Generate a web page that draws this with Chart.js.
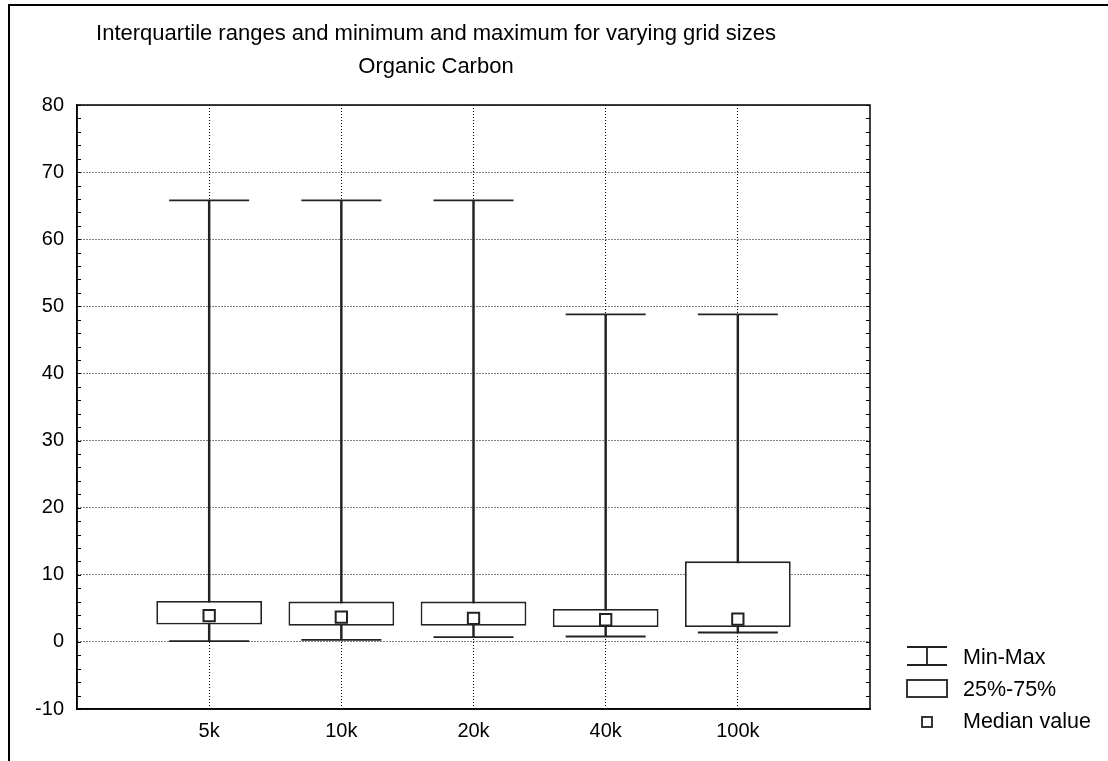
<!DOCTYPE html>
<html>
<head>
<meta charset="utf-8">
<script src="https://cdn.jsdelivr.net/npm/chart.js@4.4.0/dist/chart.umd.min.js"></script>
<style>
  html, body { margin: 0; padding: 0; background: #fff; overflow: hidden; }
  canvas { display: block; }
</style>
</head>
<body>
<canvas id="chart" width="1108" height="761"></canvas>
<script>
// Grid sizes and their summary statistics (organic carbon)
const categories = ['5k', '10k', '20k', '40k', '100k'];
const minVals    = [0.1, 0.3, 0.7, 0.8, 1.4];
const q1Vals     = [2.6, 2.4, 2.4, 2.2, 2.2];
const medianVals = [3.9, 3.7, 3.5, 3.3, 3.4];
const q3Vals     = [6.1, 6.0, 6.0, 4.9, 12.0];
const maxVals    = [65.8, 65.8, 65.8, 48.8, 48.8];

const yMin = -10;
const yMax = 80;
const yStep = 10;
const minorStep = 2;

const titleLines = ['Interquartile ranges and minimum and maximum for varying grid sizes', 'Organic Carbon'];
const legendLabels = ['Min-Max', '25%-75%', 'Median value'];

const FONT = '"Liberation Sans", Arial, Helvetica, sans-serif';
const INK = '#222';
const positions = categories.map((_, i) => i + 1);

const whiskerData = positions.map((x, i) => ({ x, y: [minVals[i], maxVals[i]] }));
const boxData     = positions.map((x, i) => ({ x, y: [q1Vals[i], q3Vals[i]] }));
const capData     = positions.flatMap((x, i) => [{ x, y: minVals[i] }, { x, y: maxVals[i] }]);
const medianData  = positions.map((x, i) => ({ x, y: medianVals[i] }));

// Page border, plot frame, minor ticks, titles and legend
const decorations = {
  id: 'decorations',
  beforeDraw(chart) {
    const ctx = chart.ctx;
    ctx.save();
    ctx.fillStyle = '#fff';
    ctx.fillRect(0, 0, chart.width, chart.height);
    ctx.fillStyle = '#000';
    ctx.fillRect(8, 4, 2, chart.height - 4);
    ctx.fillRect(8, 4, chart.width - 8, 2);
    ctx.restore();
  },
  afterDraw(chart) {
    const ctx = chart.ctx;
    const a = chart.chartArea;
    const y = chart.scales.y;
    ctx.save();
    ctx.strokeStyle = '#000';
    ctx.lineWidth = 1.5;
    ctx.strokeRect(a.left, a.top, a.right - a.left, a.bottom - a.top);

    ctx.lineWidth = 1;
    ctx.beginPath();
    for (let v = yMin; v <= yMax; v += minorStep) {
      const py = Math.round(y.getPixelForValue(v)) + 0.5;
      ctx.moveTo(a.left, py); ctx.lineTo(a.left + 4, py);
      ctx.moveTo(a.right - 4, py); ctx.lineTo(a.right, py);
    }
    ctx.stroke();

    // titles
    ctx.fillStyle = '#000';
    ctx.font = '22px ' + FONT;
    ctx.textAlign = 'center';
    ctx.textBaseline = 'middle';
    ctx.fillText(titleLines[0], 436, 34);
    ctx.fillText(titleLines[1], 436, 67);

    // legend
    const sx = 907, sw = 40, tx = 963;
    ctx.strokeStyle = INK;
    ctx.lineWidth = 1.8;
    ctx.beginPath();
    ctx.moveTo(sx, 647); ctx.lineTo(sx + sw, 647);
    ctx.moveTo(sx, 665); ctx.lineTo(sx + sw, 665);
    ctx.moveTo(sx + sw / 2, 647); ctx.lineTo(sx + sw / 2, 665);
    ctx.stroke();
    ctx.strokeRect(sx, 680, sw, 17);
    ctx.strokeRect(sx + sw / 2 - 5, 717, 10, 10);

    ctx.textAlign = 'left';
    ctx.font = '21.5px ' + FONT;
    ctx.fillText(legendLabels[0], tx, 658);
    ctx.fillText(legendLabels[1], tx, 690);
    ctx.fillText(legendLabels[2], tx, 722);
    ctx.restore();
  }
};

new Chart(document.getElementById('chart'), {
  type: 'bar',
  data: {
    datasets: [
      {
        label: 'Min-Max',
        data: whiskerData,
        grouped: false,
        barThickness: 1.8,
        backgroundColor: INK,
        borderWidth: 0,
        order: 4
      },
      {
        label: '25%-75%',
        data: boxData,
        grouped: false,
        categoryPercentage: 1,
        barPercentage: 0.8,
        backgroundColor: '#fff',
        borderColor: INK,
        borderWidth: 1.8,
        borderSkipped: false,
        order: 3
      },
      {
        type: 'scatter',
        label: 'caps',
        data: capData,
        pointStyle: 'line',
        pointRadius: 40,
        borderColor: INK,
        borderWidth: 1.8,
        order: 2
      },
      {
        type: 'scatter',
        label: 'Median value',
        data: medianData,
        pointStyle: 'rect',
        pointRadius: 8,
        backgroundColor: '#fff',
        borderColor: INK,
        borderWidth: 2,
        order: 1
      }
    ]
  },
  options: {
    responsive: false,
    animation: false,
    events: [],
    layout: { padding: { left: 0, top: 105, right: 238, bottom: 0 } },
    plugins: {
      legend: { display: false },
      title: { display: false },
      tooltip: { enabled: false }
    },
    scales: {
      x: {
        type: 'linear',
        min: 0,
        max: categories.length + 1,
        offset: false,
        afterBuildTicks: s => { s.ticks = positions.map(v => ({ value: v })); },
        afterFit: s => { s.height = 52; },
        ticks: {
          callback: v => categories[v - 1] ?? '',
          color: '#000',
          font: { family: FONT, size: 20 },
          padding: 10,
          maxRotation: 0,
          autoSkip: false
        },
        grid: { offset: false, color: '#000', lineWidth: 1, drawTicks: false },
        border: { color: '#000', width: 1.5, dash: [1, 2] }
      },
      y: {
        type: 'linear',
        min: yMin,
        max: yMax,
        beginAtZero: false,
        afterFit: s => { s.width = 77; },
        ticks: {
          stepSize: yStep,
          color: '#000',
          font: { family: FONT, size: 20 },
          padding: 13
        },
        grid: { color: '#000', lineWidth: 1, drawTicks: false },
        border: { color: '#000', width: 1.5, dash: [1, 2] }
      }
    }
  },
  plugins: [decorations]
});
</script>
</body>
</html>
